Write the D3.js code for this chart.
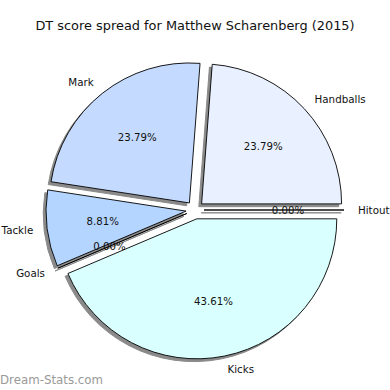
<!DOCTYPE html>
<html>
<head>
<meta charset="utf-8">
<script src="https://cdn.jsdelivr.net/npm/d3@7"></script>
<style>
  body { margin: 0; background: #fff; }
  text { font-family: "DejaVu Sans", sans-serif; }
</style>
</head>
<body>
<svg></svg>
<script>
const width = 390;
const height = 390;

// DT points per stat, in the order matplotlib draws them (counter-clockwise from 3 o'clock)
const labels = ['Handballs', 'Mark', 'Tackle', 'Goals', 'Kicks', 'Hitout'];
const points = [54, 54, 20, 0, 99, 0];
const colors = ['#e9f0ff', '#c5daff', '#b4d5ff', '#c8e6ff', '#daffff', '#f0f8ff'];

const cx = 195;
const cy = 210;
const radius = 140;
const explode = 9;
const total = d3.sum(points);

const svg = d3.select('svg')
  .attr('width', width)
  .attr('height', height);

svg.append('text')
  .attr('x', width / 2)
  .attr('y', 30)
  .attr('text-anchor', 'middle')
  .attr('font-size', 12.9)
  .attr('fill', '#111')
  .text('DT score spread for Matthew Scharenberg (2015)');

// start at 3 o'clock and go counter-clockwise, like matplotlib
const pie = d3.pie()
  .sort(null)
  .value((d) => d)
  .startAngle(Math.PI / 2)
  .endAngle(Math.PI / 2 - 2 * Math.PI);

const arc = d3.arc()
  .innerRadius(0)
  .outerRadius(radius);

const arcs = pie(points);

const offset = (d, dist) => {
  const a = (d.startAngle + d.endAngle) / 2;
  return [Math.sin(a) * dist, -Math.cos(a) * dist];
};

const slices = svg.append('g')
  .attr('transform', `translate(${cx},${cy})`)
  .selectAll('g')
  .data(arcs)
  .join('g')
  .attr('transform', (d) => {
    const [dx, dy] = offset(d, explode);
    return `translate(${dx},${dy})`;
  });

slices.append('path')
  .attr('d', arc)
  .attr('transform', 'translate(-2.8,2.8)')
  .attr('fill', '#8a8a8a')
  .attr('stroke', '#8a8a8a')
  .attr('stroke-width', 1);

slices.append('path')
  .attr('d', arc)
  .attr('fill', (d, i) => colors[i])
  .attr('stroke', '#000')
  .attr('stroke-width', 0.9)
  .attr('stroke-linejoin', 'miter');

// outer labels at 1.1 r
slices.append('text')
  .attr('x', (d) => offset(d, radius * 1.1)[0])
  .attr('y', (d) => offset(d, radius * 1.1)[1])
  .attr('dy', '0.35em')
  .attr('text-anchor', (d) => offset(d, 1)[0] < 0 ? 'end' : 'start')
  .attr('font-size', 10.3)
  .attr('fill', '#111')
  .text((d, i) => labels[i]);

// percentages at 0.6 r
slices.append('text')
  .attr('x', (d) => offset(d, radius * 0.6)[0])
  .attr('y', (d) => offset(d, radius * 0.6)[1])
  .attr('dy', '0.35em')
  .attr('text-anchor', 'middle')
  .attr('font-size', 10.2)
  .attr('fill', '#111')
  .text((d) => (d.value / total * 100).toFixed(2) + '%');

svg.append('text')
  .attr('x', 0)
  .attr('y', 384)
  .attr('font-size', 11.8)
  .attr('fill', '#9a9a9a')
  .text('Dream-Stats.com');
</script>
</body>
</html>
